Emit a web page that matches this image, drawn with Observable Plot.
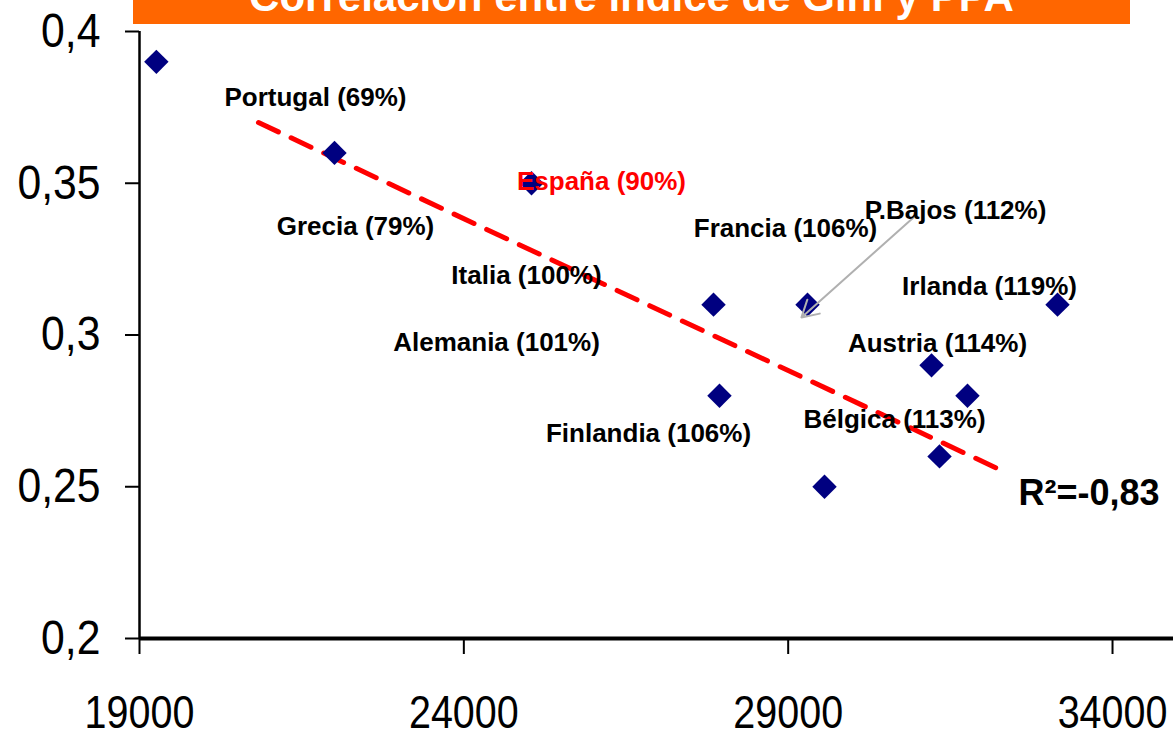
<!DOCTYPE html>
<html>
<head>
<meta charset="utf-8">
<script src="https://cdn.jsdelivr.net/npm/d3@7"></script>
<script src="https://cdn.jsdelivr.net/npm/@observablehq/plot@0.6"></script>
<style>
  html, body { margin: 0; padding: 0; background: #fff; }
  #wrap { position: relative; width: 1173px; height: 739px; overflow: hidden; }
  #title { position: absolute; left: 133px; top: 0; width: 997px; height: 24px; background: #FF6600; overflow: hidden; z-index: 2; }
  #title div { position: absolute; left: 0; right: 0; top: -23.6px; line-height: 42px; font-size: 42px; font-weight: bold; color: #fff; text-align: center; font-family: "Liberation Sans", Arial, sans-serif; white-space: nowrap; }
  #chart { position: absolute; left: 0; top: 0; }
</style>
</head>
<body>
<div id="wrap">
  <div id="chart"></div>
  <div id="title"><div>Correlación entre índice de Gini y PPA</div></div>
</div>
<script>
// Data
const countries = ["Portugal", "Grecia", "España", "Italia", "Alemania", "Francia", "Finlandia", "P.Bajos", "Bélgica", "Austria", "Irlanda"];
const ppaPct    = [69, 79, 90, 100, 101, 106, 106, 112, 113, 114, 119];
const gdpPPA    = [19260, 22006, 25043, 27849, 27941, 29298, 29560, 31210, 31333, 31764, 33152];
const gini      = [0.39, 0.36, 0.35, 0.31, 0.28, 0.31, 0.25, 0.29, 0.26, 0.28, 0.31];
// label anchor positions (data units)
const labelX    = [21713, 22330, 26122, 24966, 24504, 28959, 26847, 31580, 30639, 31302, 32104];
const labelY    = [0.3783, 0.3358, 0.3506, 0.3196, 0.2975, 0.3351, 0.2675, 0.3410, 0.2722, 0.2972, 0.3160];
// trend line endpoints (data units)
const trendX    = [20834, 32227];
const trendY    = [0.370, 0.256];
// arrow for P.Bajos (data units)
const arrowFrom = [30932, 0.3387];
const arrowTo   = [29205, 0.3058];
const r2Text    = "R²=-0,83";
const r2Pos     = [32551, 0.2478];
const xTicks    = [19000, 24000, 29000, 34000];
const yTicks    = [0.2, 0.25, 0.3, 0.35, 0.4];

const points = countries.map((c, i) => ({country: c, ppa: ppaPct[i], x: gdpPPA[i], y: gini[i]}));
const labels = countries.map((c, i) => ({text: `${c} (${ppaPct[i]}%)`, x: labelX[i], y: labelY[i], red: c === "España"}));
const trend = trendX.map((x, i) => ({x, y: trendY[i]}));

const sans = "'Liberation Sans', Arial, sans-serif";
const comma = d => String(d).replace(".", ",");

const chart = Plot.plot({
  width: 1173,
  height: 739,
  marginLeft: 139,
  marginTop: 31,
  marginBottom: 101,
  marginRight: 0,
  style: {background: "#fff", fontFamily: sans, overflow: "visible"},
  x: {domain: [19000, 34940]},
  y: {domain: [0.2, 0.4]},
  marks: [
    Plot.axisX({ticks: xTicks, tickSize: 16, tickPadding: 40, fontSize: 47, fill: "#000", stroke: "#000", strokeWidth: 2, tickFormat: d => String(d), label: null}),
    Plot.axisY({ticks: yTicks, tickSize: 14, tickPadding: 25, fontSize: 48, fill: "#000", stroke: "#000", strokeWidth: 2, tickFormat: comma, label: null}),
    Plot.ruleX([19000], {y1: 0.2, y2: 0.4, stroke: "#000", strokeWidth: 2.5}),
    Plot.ruleY([0.2], {stroke: "#000", strokeWidth: 4}),
    Plot.line(trend, {x: "x", y: "y", stroke: "#FF0000", strokeWidth: 5, strokeDasharray: "22,14"}),
    Plot.dot(points, {x: "x", y: "y", symbol: "diamond2", r: 11, fill: "#000080", stroke: "none"}),
    Plot.arrow([{}], {x1: arrowFrom[0], y1: arrowFrom[1], x2: arrowTo[0], y2: arrowTo[1], stroke: "#B0B0B0", strokeWidth: 2, headLength: 14, bend: 0}),
    Plot.text(labels, {x: "x", y: "y", text: "text", fontSize: 26, fontWeight: "bold", fill: d => d.red ? "#FF0000" : "#000"}),
    Plot.text([r2Text], {x: r2Pos[0], y: r2Pos[1], text: d => d, textAnchor: "start", fontSize: 36, fontWeight: "bold", fill: "#000"})
  ]
});
document.getElementById("chart").appendChild(chart);
// condense the axis tick labels (narrow face like the original)
function condense(selector, k) {
  chart.querySelectorAll(selector).forEach(t => {
    const w = t.getComputedTextLength();
    t.setAttribute("textLength", (w * k).toFixed(1));
    t.setAttribute("lengthAdjust", "spacingAndGlyphs");
  });
}
condense('g[aria-label="x-axis tick label"] text', 0.84);
condense('g[aria-label="y-axis tick label"] text', 0.89);
</script>
</body>
</html>
